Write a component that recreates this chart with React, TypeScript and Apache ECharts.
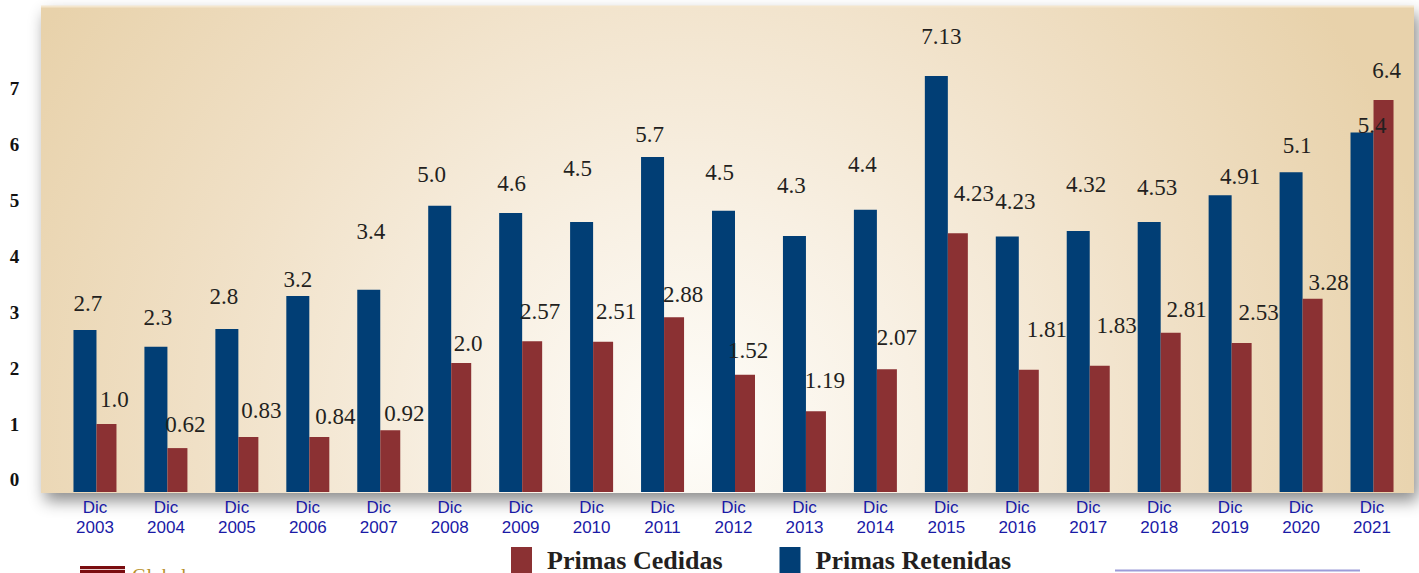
import React, { useEffect, useRef } from "react";
import * as echarts from "echarts";

const YEARS = ["2003","2004","2005","2006","2007","2008","2009","2010","2011","2012","2013","2014","2015","2016","2017","2018","2019","2020","2021"];
const RETENIDAS = [2.68,2.38,2.70,3.29,3.40,4.90,4.77,4.61,5.77,4.81,4.36,4.83,7.22,4.35,4.45,4.61,5.09,5.50,6.21];
const CEDIDAS = [1.00,0.57,0.77,0.77,0.89,2.09,2.48,2.47,2.91,1.88,1.23,1.98,4.41,1.97,2.04,2.63,2.45,3.24,6.79];
const RETENIDAS_LABELS = ["2.7","2.3","2.8","3.2","3.4","5.0","4.6","4.5","5.7","4.5","4.3","4.4","7.13","4.23","4.32","4.53","4.91","5.1","5.4"];
const CEDIDAS_LABELS = ["1.0","0.62","0.83","0.84","0.92","2.0","2.57","2.51","2.88","1.52","1.19","2.07","4.23","1.81","1.83","2.81","2.53","3.28","6.4"];
const Y_TICKS = [0,1,2,3,4,5,6,7];

// label placement (layout only, pixels)
const RET_RISE = [27,29,32,16,58,31,30,54,23,38,51,45,39,35,46,35,19,27,7];
const RET_SHIFT = [3,2,-3,0,2,-8,1,-4,-3,-4,-3,-3,5,8,8,8,20,6,10];
const CED_RISE = [25,24,26,20,17,20,30,30,23,24,31,32,40,40,40,23,30,16,30];
const CED_SHIFT = [8,8,13,16,14,7,8,13,9,3,9,10,16,18,17,16,17,16,3];

const FLOOR = -0.2145; // bars rest on a floor slightly below zero
const BLUE = "#013e75";
const RED = "#8b3133";
const SERIF = "'Liberation Serif', 'Times New Roman', serif";

export default function App() {
  const ref = useRef<HTMLDivElement>(null);
  useEffect(() => {
    if (!ref.current) return;
    const chart = echarts.init(ref.current, undefined, { renderer: "svg" });
    const labelBase = {
      show: true,
      position: "top",
      distance: 0,
      verticalAlign: "middle",
      fontFamily: SERIF,
      fontSize: 23,
      color: "#231f20",
    };
    const floorData = YEARS.map(() => FLOOR);
    chart.setOption({
      animation: false,
      backgroundColor: "#ffffff",
      graphic: [
        {
          type: "rect",
          z: -10,
          shape: { x: 41, y: 6, width: 1373, height: 487 },
          style: {
            fill: new echarts.graphic.RadialGradient(690, 430, 760, [
              { offset: 0, color: "#fefdf9" },
              { offset: 0.3, color: "#f8f0e3" },
              { offset: 0.65, color: "#f0e0c6" },
              { offset: 1, color: "#e8d2ab" },
            ], true),
            shadowBlur: 16,
            shadowOffsetX: 4,
            shadowOffsetY: 8,
            shadowColor: "rgba(0,0,0,0.45)",
          },
        },
        {
          type: "line",
          z: -9,
          shape: { x1: 41, y1: 6.5, x2: 1414, y2: 6.5 },
          style: { stroke: "#f4e6cd", lineWidth: 2 },
        },
        {
          type: "rect",
          shape: { x: 80, y: 566, width: 45, height: 8 },
          style: { fill: "#7a0d10" },
        },
        {
          type: "line",
          shape: { x1: 80, y1: 569.5, x2: 125, y2: 569.5 },
          style: { stroke: "#e8d0d0", lineWidth: 1 },
        },
        {
          type: "text",
          x: 132,
          y: 566,
          style: { text: "Global", fontFamily: SERIF, fontSize: 20, fill: "#b8902a", textVerticalAlign: "top" },
        },
        {
          type: "line",
          shape: { x1: 1115, y1: 570.5, x2: 1360, y2: 570.5 },
          style: { stroke: "#9c9cd8", lineWidth: 2 },
        },
      ],
      legend: {
        data: ["Primas Cedidas", "Primas Retenidas"],
        left: 511,
        top: 547,
        padding: 0,
        itemWidth: 21,
        itemHeight: 26,
        itemGap: 57,
        icon: "rect",
        textStyle: {
          fontFamily: SERIF,
          fontSize: 26,
          fontWeight: "bold",
          color: "#231f20",
          padding: [0, 0, 0, 10],
        },
      },
      grid: { left: 59.5, right: 11.5, top: 6, bottom: 81 },
      xAxis: {
        type: "category",
        data: YEARS,
        axisLine: { show: false },
        axisTick: { show: false },
        axisLabel: {
          interval: 0,
          margin: 5,
          formatter: (v: string) => `Dic\n${v}`,
          fontFamily: "'Liberation Sans', Arial, sans-serif",
          fontSize: 17,
          lineHeight: 20,
          color: "#1a1aa6",
        },
      },
      yAxis: {
        type: "value",
        min: FLOOR,
        max: 8.47,
        splitLine: { show: false },
        axisLine: { show: false },
        axisTick: { show: false },
        axisLabel: {
          customValues: Y_TICKS,
          align: "center",
          margin: 45,
          fontFamily: SERIF,
          fontWeight: "bold",
          fontSize: 19,
          color: "#111111",
        },
      },
      series: [
        {
          name: "Primas Retenidas",
          type: "bar",
          stack: "ret",
          barWidth: 23,
          barGap: "0%",
          itemStyle: { color: BLUE },
          data: RETENIDAS.map((v, i) => ({
            value: v,
            label: { offset: [RET_SHIFT[i], -RET_RISE[i]] },
          })),
          label: {
            ...labelBase,
            formatter: (p: any) => RETENIDAS_LABELS[p.dataIndex],
          },
        },
        {
          name: "retFloor",
          type: "bar",
          stack: "ret",
          barWidth: 23,
          silent: true,
          itemStyle: { color: BLUE },
          data: floorData,
        },
        {
          name: "Primas Cedidas",
          type: "bar",
          stack: "ced",
          barWidth: 20,
          barGap: "0%",
          itemStyle: { color: RED },
          data: CEDIDAS.map((v, i) => ({
            value: v,
            label: { offset: [CED_SHIFT[i], -CED_RISE[i]] },
          })),
          label: {
            ...labelBase,
            formatter: (p: any) => CEDIDAS_LABELS[p.dataIndex],
          },
        },
        {
          name: "cedFloor",
          type: "bar",
          stack: "ced",
          barWidth: 20,
          silent: true,
          itemStyle: { color: RED },
          data: floorData,
        },
      ],
    });
    return () => chart.dispose();
  }, []);
  return (
    <div
      ref={ref}
      style={{ position: "absolute", left: 0, top: 0, width: 1419, height: 573 }}
    />
  );
}
